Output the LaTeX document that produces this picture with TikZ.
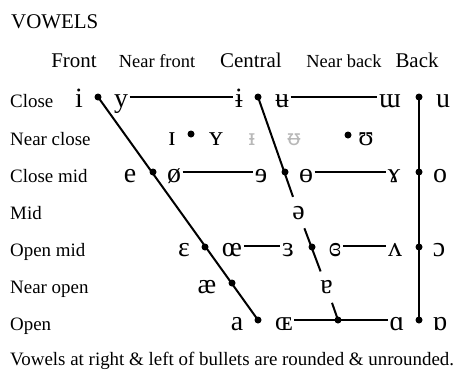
\documentclass[tikz,border=0pt]{standalone}
\usepackage{fontspec}
\setmainfont{Liberation Serif}
\newfontfamily\phonfont{Noto Sans}
\definecolor{ghost}{gray}{0.72}
\begin{document}
\begin{tikzpicture}[x=1bp,y=-1bp,
  ipa/.style={font=\fontsize{28}{28}\selectfont, inner sep=1.5bp, anchor=base},
  ghostipa/.style={font=\phonfont\fontsize{22}{22}\selectfont, inner sep=1.5bp, anchor=base, text=ghost},
  gapn/.style={ipa, minimum height=31bp},
  lab/.style={font=\fontsize{19}{19}\selectfont, anchor=base west, inner sep=0},
  hdr/.style={font=\fontsize{21}{21}\selectfont, anchor=base, inner sep=0},
  hdrs/.style={font=\fontsize{18.5}{18.5}\selectfont, anchor=base, inner sep=0},
  dot/.style={circle, fill=black, inner sep=0, minimum size=7bp},
  ln/.style={line width=2bp}]
\useasboundingbox (0,0) rectangle (453,371);
% title and headers
\node[font=\fontsize{21}{21}\selectfont, anchor=base west, inner sep=0] (title) at (11,28) {VOWELS};
\node[hdr]  (hF)  at (74,67)  {Front};
\node[hdrs] (hNF) at (157,67) {Near front};
\node[hdr]  (hC)  at (251,67) {Central};
\node[hdrs] (hNB) at (344,67) {Near back};
\node[hdr]  (hB)  at (417,67) {Back};
% row labels
\node[lab] (r1) at (10,107.5) {Close};
\node[lab] (r2) at (10,145)   {Near close};
\node[lab] (r3) at (10,182)   {Close mid};
\node[lab] (r4) at (10,219)   {Mid};
\node[lab] (r5) at (10,256.5) {Open mid};
\node[lab] (r6) at (10,293.5) {Near open};
\node[lab] (r7) at (10,330.5) {Open};
% footer
\node[font=\fontsize{19}{19}\selectfont, anchor=base west, inner sep=0] (foot) at (10,365) {Vowels at right \& left of bullets are rounded \& unrounded.};
% bullets
\node[dot] (bF1) at (98,97) {};
\node[dot] (bF2) at (153,172) {};
\node[dot] (bF3) at (205,247) {};
\node[dot] (bF4) at (232,283) {};
\node[dot] (bF5) at (258,320) {};
\node[dot] (bNF) at (191,134) {};
\node[dot] (bC1) at (258,97) {};
\node[dot] (bC2) at (285,172) {};
\node[dot] (bC3) at (312,247) {};
\node[dot] (bC4) at (338,320) {};
\node[dot] (bNB) at (348,135) {};
\node[dot] (bB1) at (419,97) {};
\node[dot] (bB2) at (419,172) {};
\node[dot] (bB3) at (419,247) {};
\node[dot] (bB4) at (419,320) {};
% close
\node[ipa] (i)  at (79,107.5)  {i};
\node[ipa] (y)  at (121,107.5) {y};
\node[ipa] (ib) at (239,107.5) {ɨ};
\node[ipa] (ub) at (282,107.5) {ʉ};
\node[ipa] (mt) at (390,107.5) {ɯ};
\node[ipa] (u)  at (443,107.5) {u};
% near close
\node[ipa] (ic) at (172,145) {ɪ};
\node[ipa] (yc) at (216,145) {ʏ};
\node[ghostipa] (icb) at (252,145) {ᵻ};
\node[ghostipa] (ucb) at (294,145) {ᵿ};
\node[ipa] (hu) at (366,145) {ʊ};
% close mid
\node[ipa] (e)  at (130,182) {e};
\node[ipa] (os) at (174,182) {ø};
\node[ipa] (re) at (261,182) {ɘ};
\node[ipa] (ob) at (306,182) {ɵ};
\node[ipa] (rg) at (394,182) {ɤ};
\node[ipa] (o)  at (440,182) {o};
% mid
\node[gapn] (schwa) at (298.5,219) {ə};
% open mid
\node[ipa] (eps) at (184,256.5) {ɛ};
\node[ipa] (oe)  at (232,256.5) {œ};
\node[ipa] (reps) at (288,256.5) {ɜ};
\node[ipa] (ceps) at (335,256.5) {ɞ};
\node[ipa] (tv) at (395,256.5) {ʌ};
\node[ipa] (oo) at (439,256.5) {ɔ};
% near open
\node[ipa] (ae) at (207,293.5) {æ};
\node[gapn] (ta) at (326.5,293.5) {ɐ};
% open
\node[ipa] (a)  at (237,330.5) {a};
\node[ipa] (OE) at (284,330.5) {ɶ};
\node[ipa] (sa) at (397,330.5) {ɑ};
\node[ipa] (ta2) at (440,330.5) {ɒ};
% connectors
\draw[ln] (bF1.center) -- (bF5.center);
\draw[ln] (bB1.center) -- (bB4.center);
\draw[ln] (bC1.center) -- (schwa);
\draw[ln] (schwa) -- (ta);
\draw[ln] (ta) -- (bC4.center);
\draw[ln] ([yshift=10.5bp]y.base east) -- ([yshift=10.5bp]ib.base west);
\draw[ln] ([yshift=10.5bp]ub.base east) -- ([yshift=10.5bp]mt.base west);
\draw[ln] ([yshift=10.5bp]os.base east) -- ([yshift=10.5bp]re.base west);
\draw[ln] ([yshift=10.5bp]ob.base east) -- ([yshift=10.5bp]rg.base west);
\draw[ln] ([yshift=10.5bp]oe.base east) -- ([yshift=10.5bp]reps.base west);
\draw[ln] ([yshift=10.5bp]ceps.base east) -- ([yshift=10.5bp]tv.base west);
\draw[ln] ([yshift=10.5bp]OE.base east) -- ([yshift=10.5bp]sa.base west);
\end{tikzpicture}
\end{document}
